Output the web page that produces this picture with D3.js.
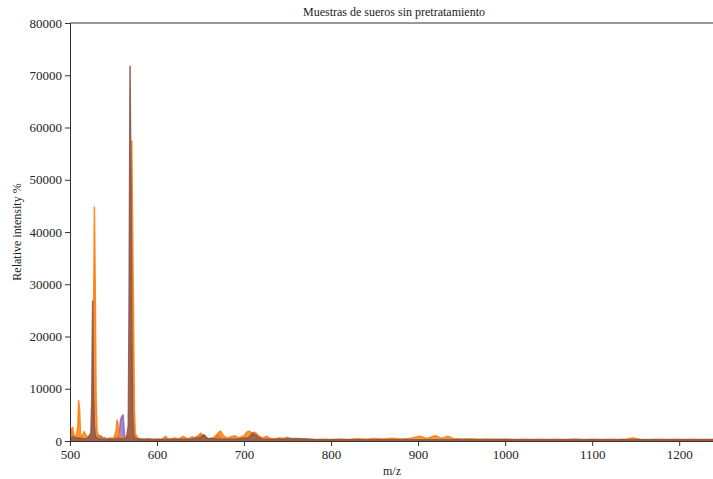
<!DOCTYPE html>
<html>
<head>
<meta charset="utf-8">
<script src="https://cdn.jsdelivr.net/npm/d3@7/dist/d3.min.js"></script>
<style>
  html, body { margin: 0; padding: 0; background: #fff; }
  svg { display: block; }
  svg text { font-family: "Liberation Serif", "Times New Roman", "DejaVu Serif", serif; }
</style>
</head>
<body>
<svg id="chart" width="713" height="479"></svg>
<script>
// Mass spectra of untreated serum samples: [m/z, intensity] pairs per sample
const sampleOrange = [
  [500, 500], [501, 2200], [503, 2600], [505, 900], [507, 600], [509, 3000], [510, 7700],
  [511, 6000], [512, 1500], [514, 600], [516, 1800], [518, 1200], [520, 800], [522, 600],
  [524, 700], [526, 3000], [527, 20000], [528, 44800], [529, 30000], [530, 8000], [531, 2000],
  [533, 800], [535, 600], [538, 500], [540, 700], [543, 400], [546, 600], [549, 500],
  [551, 800], [553, 2000], [554, 4000], [555, 3500], [556, 1200], [558, 500], [560, 600],
  [562, 700], [564, 400], [566, 600], [568, 1500], [569, 6000], [570, 30000], [571, 57400],
  [572, 40000], [573, 24000], [574, 6000], [575, 1500], [577, 700], [579, 500], [581, 400],
  [585, 300], [590, 500], [595, 300], [600, 400], [605, 300], [610, 900], [612, 500],
  [615, 300], [620, 600], [625, 400], [630, 900], [633, 600], [636, 400], [640, 800],
  [645, 500], [650, 1500], [653, 1100], [656, 500], [660, 400], [665, 600], [670, 1500],
  [673, 1900], [676, 1100], [680, 500], [685, 800], [690, 1000], [693, 600], [697, 800],
  [700, 1000], [703, 1700], [706, 1900], [709, 1500], [712, 1700], [715, 1300], [718, 800],
  [722, 600], [726, 900], [730, 500], [735, 400], [740, 600], [745, 500], [750, 700],
  [755, 400], [760, 300], [770, 400], [780, 300], [790, 350], [800, 300], [810, 400],
  [820, 300], [830, 450], [840, 350], [850, 500], [860, 400], [870, 550], [880, 400],
  [890, 500], [902, 900], [910, 500], [920, 1000], [927, 500], [934, 900], [940, 500],
  [950, 400], [960, 450], [970, 350], [980, 400], [990, 350], [1000, 400], [1010, 300],
  [1020, 350], [1030, 300], [1040, 350], [1050, 300], [1060, 350], [1070, 300], [1080, 400],
  [1090, 300], [1100, 350], [1110, 300], [1120, 350], [1130, 300], [1140, 400], [1147, 600],
  [1155, 350], [1165, 300], [1175, 350], [1185, 300], [1195, 350], [1205, 300], [1215, 350],
  [1225, 300], [1240, 350]
];

const sampleBrown = [
  [500, 300], [503, 800], [506, 500], [510, 600], [515, 400], [520, 500], [524, 1500],
  [525, 8000], [526, 26800], [527, 10000], [528, 3000], [529, 1000], [531, 500], [535, 400],
  [540, 300], [545, 400], [550, 300], [555, 500], [560, 400], [565, 600], [567, 3000],
  [568, 30000], [569, 71700], [570, 50000], [571, 22000], [572, 5000], [573, 1200],
  [575, 500], [580, 400], [590, 300], [600, 300], [620, 350], [640, 400], [650, 600],
  [654, 1200], [658, 500], [670, 400], [690, 350], [705, 600], [710, 1500], [715, 900],
  [720, 400], [740, 350], [760, 500], [780, 300], [820, 250], [880, 250], [940, 250],
  [1000, 250], [1060, 250], [1120, 250], [1180, 250], [1240, 250]
];

const samplePurple = [
  [500, 2500], [502, 1500], [504, 800], [506, 1000], [508, 500], [512, 600], [516, 400],
  [520, 600], [525, 1000], [530, 800], [535, 1000], [538, 600], [542, 400], [546, 300],
  [550, 500], [555, 800], [557, 2000], [558, 4000], [559, 4500], [560, 4800], [561, 5000],
  [562, 2500], [563, 800], [566, 400], [570, 600], [575, 300], [580, 200], [600, 200],
  [640, 300], [650, 1200], [655, 400], [667, 600], [670, 1200], [674, 400], [700, 300],
  [760, 200], [800, 150], [900, 150], [1000, 120], [1100, 120], [1240, 100]
];

const series = [
  { name: "Purple", data: samplePurple, color: "#9467bd" },
  { name: "Orange", data: sampleOrange, color: "#ff7f0e" },
  { name: "Brown", data: sampleBrown, color: "#8c564b" }
];

const xTicks = [500, 600, 700, 800, 900, 1000, 1100, 1200];
const yTicks = [0, 10000, 20000, 30000, 40000, 50000, 60000, 70000, 80000];

const serif = "'Liberation Serif', 'Times New Roman', serif";
const svg = d3.select("#chart");
const plotLeft = 70, plotTop = 23, plotBottom = 441, plotRight = 714;

const x = d3.scaleLinear().domain([500, 1240]).range([plotLeft, plotRight]);
const y = d3.scaleLinear().domain([0, 80000]).range([plotBottom, plotTop]);

svg.append("defs").append("clipPath").attr("id", "plot-clip")
  .append("rect").attr("x", plotLeft).attr("y", plotTop)
  .attr("width", plotRight - plotLeft).attr("height", plotBottom - plotTop);

const plot = svg.append("g").attr("clip-path", "url(#plot-clip)");

const area = d3.area().x(d => x(d[0])).y0(y(0)).y1(d => y(d[1]));
const line = d3.line().x(d => x(d[0])).y(d => y(d[1]));

series.forEach(s => {
  plot.append("path").datum(s.data)
    .attr("d", area).attr("fill", s.color).attr("fill-opacity", 0.8);
  plot.append("path").datum(s.data)
    .attr("d", line).attr("fill", "none").attr("stroke", s.color)
    .attr("stroke-width", 1.5).attr("stroke-opacity", 0.9)
    .attr("stroke-linejoin", "round");
});

// Spines
svg.append("line").attr("x1", plotLeft).attr("x2", plotRight).attr("y1", plotTop).attr("y2", plotTop)
  .attr("stroke", "#333").attr("stroke-width", 1);
svg.append("line").attr("x1", plotRight).attr("x2", plotRight).attr("y1", plotTop).attr("y2", plotBottom)
  .attr("stroke", "#333").attr("stroke-width", 1);

const xAxis = svg.append("g").attr("transform", `translate(0,${plotBottom})`)
  .call(d3.axisBottom(x).tickValues(xTicks).tickSize(5).tickPadding(4).tickFormat(d3.format("d")));
const yAxis = svg.append("g").attr("transform", `translate(${plotLeft},0)`)
  .call(d3.axisLeft(y).tickValues(yTicks).tickSize(5).tickPadding(3).tickFormat(d3.format("d")));

[xAxis, yAxis].forEach(g => {
  g.attr("font-family", serif).attr("font-size", 13);
  g.select(".domain").attr("stroke", "#333");
  g.selectAll(".tick line").attr("stroke", "#333");
  g.selectAll(".tick text").attr("fill", "#222");
});

svg.append("text").attr("x", 394).attr("y", 16).attr("text-anchor", "middle")
  .attr("font-family", serif).attr("font-size", 12).attr("fill", "#222")
  .text("Muestras de sueros sin pretratamiento");

svg.append("text").attr("x", 392).attr("y", 475).attr("text-anchor", "middle")
  .attr("font-family", serif).attr("font-size", 12).attr("fill", "#222").text("m/z");

svg.append("text").attr("transform", `translate(21,${(plotTop + plotBottom) / 2}) rotate(-90)`)
  .attr("text-anchor", "middle").attr("font-family", serif).attr("font-size", 12)
  .attr("fill", "#222").text("Relative intensity %");
</script>
</body>
</html>
